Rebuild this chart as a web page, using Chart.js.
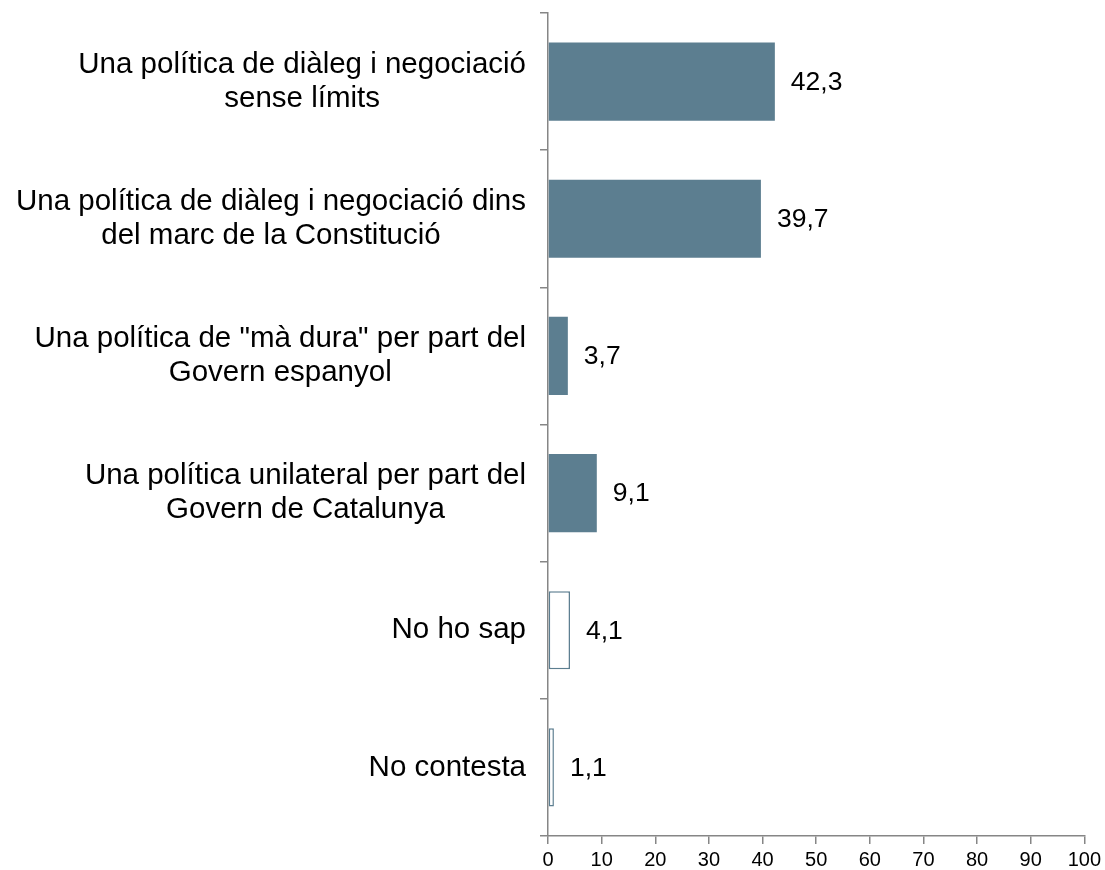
<!DOCTYPE html>
<html>
<head>
<meta charset="utf-8">
<script src="https://cdn.jsdelivr.net/npm/chart.js@4/dist/chart.umd.min.js"></script>
<style>
  html, body { margin: 0; padding: 0; background: #ffffff; }
  #wrap { width: 1105px; height: 870px; }
</style>
</head>
<body>
<div id="wrap"><canvas id="c" width="1105" height="870"></canvas></div>
<script>
const categories = [
  ["Una política de diàleg i negociació", "sense límits"],
  ["Una política de diàleg i negociació dins", "del marc de la Constitució"],
  ["Una política de \"mà dura\" per part del", "Govern espanyol"],
  ["Una política unilateral per part del", "Govern de Catalunya"],
  ["No ho sap"],
  ["No contesta"]
];
const values = [42.3, 39.7, 3.7, 9.1, 4.1, 1.1];
const valueLabels = ["42,3", "39,7", "3,7", "9,1", "4,1", "1,1"];
const xMin = 0, xMax = 100, xStep = 10;

const BAR = '#5C7E90';
const AXIS = '#868686';
const FONT = '"Liberation Sans", Arial, sans-serif';

const categoryLabelPlugin = {
  id: 'categoryLabels',
  afterDraw(chart) {
    const ctx = chart.ctx;
    const y = chart.scales.y;
    const right = y.right - 22;
    const lh = 34;
    ctx.save();
    ctx.font = '29.5px ' + FONT;
    ctx.fillStyle = '#000';
    ctx.textAlign = 'center';
    ctx.textBaseline = 'middle';
    categories.forEach((lines, i) => {
      const cy = y.getPixelForTick(i);
      const w = Math.max(...lines.map(l => ctx.measureText(l).width));
      const cx = right - w / 2;
      const top = cy - (lines.length - 1) * lh / 2;
      lines.forEach((l, k) => ctx.fillText(l, cx, top + k * lh));
    });
    ctx.restore();
  }
};

const valueLabelPlugin = {
  id: 'valueLabels',
  afterDatasetsDraw(chart) {
    const ctx = chart.ctx;
    const meta = chart.getDatasetMeta(0);
    ctx.save();
    ctx.font = '26.5px ' + FONT;
    ctx.fillStyle = '#000';
    ctx.textAlign = 'left';
    ctx.textBaseline = 'middle';
    meta.data.forEach((bar, i) => {
      ctx.fillText(valueLabels[i], bar.x + 16, bar.y + 1);
    });
    ctx.restore();
  }
};

new Chart(document.getElementById('c'), {
  type: 'bar',
  data: {
    labels: categories,
    datasets: [{
      data: values,
      backgroundColor: values.map((v, i) => i < 4 ? BAR : '#ffffff'),
      borderColor: BAR,
      borderWidth: values.map((v, i) => i < 4 ? 0 : 1.5),
      borderSkipped: false,
      categoryPercentage: 1,
      barPercentage: 0.57
    }]
  },
  options: {
    indexAxis: 'y',
    responsive: false,
    animation: false,
    devicePixelRatio: 1,
    layout: { padding: { top: 13, right: 19, left: 0, bottom: 0 } },
    plugins: { legend: { display: false }, tooltip: { enabled: false } },
    scales: {
      y: {
        afterFit(scale) { scale.width = 548; },
        grid: { drawOnChartArea: false, drawTicks: true, tickLength: 8, color: AXIS, lineWidth: 1.5, offset: true },
        border: { color: AXIS, width: 1.5 },
        ticks: { display: false }
      },
      x: {
        min: xMin, max: xMax,
        afterFit(scale) { scale.height = 34; },
        grid: { drawOnChartArea: false, drawTicks: true, tickLength: 8, color: AXIS, lineWidth: 1.5 },
        border: { color: AXIS, width: 1.5 },
        ticks: { stepSize: xStep, color: '#000', padding: 4, font: { family: FONT, size: 20 } }
      }
    }
  },
  plugins: [categoryLabelPlugin, valueLabelPlugin]
});
</script>
</body>
</html>
